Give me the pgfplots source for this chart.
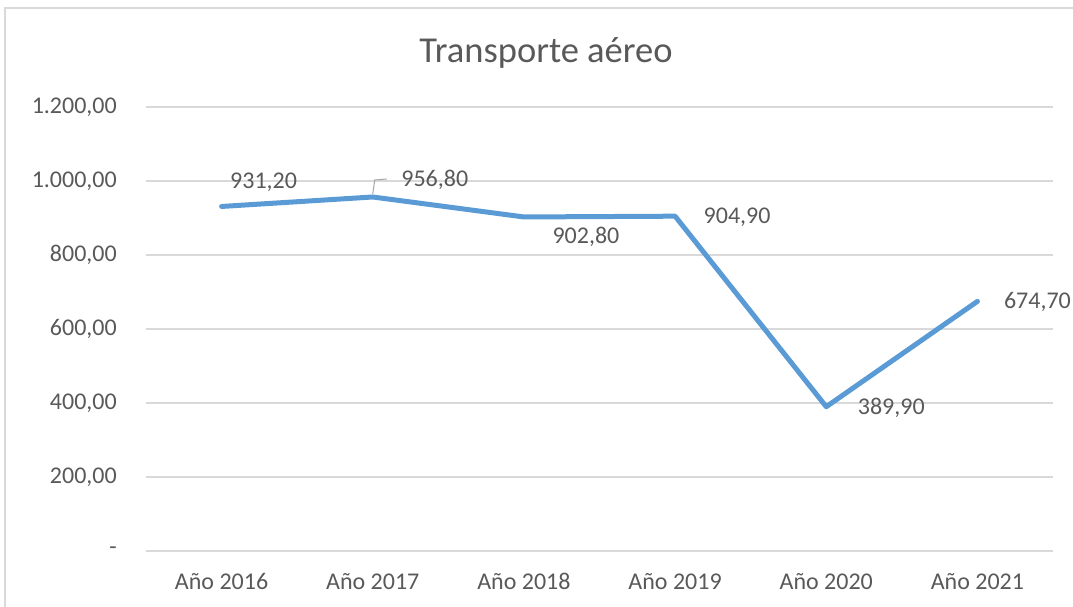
\documentclass[border=0pt]{standalone}
\usepackage{pgfplots}
\pgfplotsset{compat=1.18}
\usepackage{fontspec}
\setmainfont{Carlito}
\definecolor{linec}{HTML}{5B9BD5}
\definecolor{gridc}{HTML}{D9D9D9}
\definecolor{txt}{HTML}{595959}
\definecolor{leader}{HTML}{A6A6A6}
\begin{document}
\begin{tikzpicture}
\path[use as bounding box] (0,0) rectangle (1073pt,606pt);
\draw[gridc, line width=1.2pt] (5pt,-20pt) rectangle (1090pt,598pt);
\node[txt, font=\fontsize{36.5}{40}\selectfont] at (546pt,553pt) {Transporte aéreo};
\begin{axis}[
  at={(146pt,55pt)}, anchor=south west, scale only axis,
  width=907pt, height=444pt,
  xmin=-0.5, xmax=5.5, ymin=0, ymax=1200,
  axis line style={draw=none},
  xtick={0,1,2,3,4,5},
  xticklabels={Año 2016,Año 2017,Año 2018,Año 2019,Año 2020,Año 2021},
  ytick={0,200,400,600,800,1000,1200},
  yticklabels={{-\hspace{11pt}},{200,00},{400,00},{600,00},{800,00},{1.000,00},{1.200,00}},
  ymajorgrids,
  major grid style={gridc, line width=1.3pt},
  tick style={draw=none},
  ticklabel style={txt, font=\fontsize{24}{28}\selectfont},
  yticklabel style={anchor=east, inner sep=0pt, xshift=-29pt},
  xticklabel style={anchor=north, inner sep=0pt, yshift=-22pt},
  clip=false,
]
\addplot[linec, line width=5pt, line cap=round, line join=round, mark=none]
  coordinates {(0,931.2) (1,956.8) (2,902.8) (3,904.9) (4,389.9) (5,674.7)};
\draw[leader, line width=1pt] ([yshift=3pt]axis cs:1,956.8) -- ([xshift=2pt,yshift=17pt]axis cs:1,956.8) -- ([xshift=14pt,yshift=18pt]axis cs:1,956.8);
\begin{scope}[every node/.style={txt, font=\fontsize{24}{28}\selectfont, inner sep=0pt}]
\node at ([xshift=42pt,yshift=24pt]axis cs:0,931.2) {931,20};
\node at ([xshift=62pt,yshift=17pt]axis cs:1,956.8) {956,80};
\node at ([xshift=62pt,yshift=-20pt]axis cs:2,902.8) {902,80};
\node at ([xshift=62pt,yshift=-1pt]axis cs:3,904.9) {904,90};
\node at ([xshift=65pt,yshift=-1pt]axis cs:4,389.9) {389,90};
\node at ([xshift=60pt,yshift=-1pt]axis cs:5,674.7) {674,70};
\end{scope}
\end{axis}
\end{tikzpicture}
\end{document}
